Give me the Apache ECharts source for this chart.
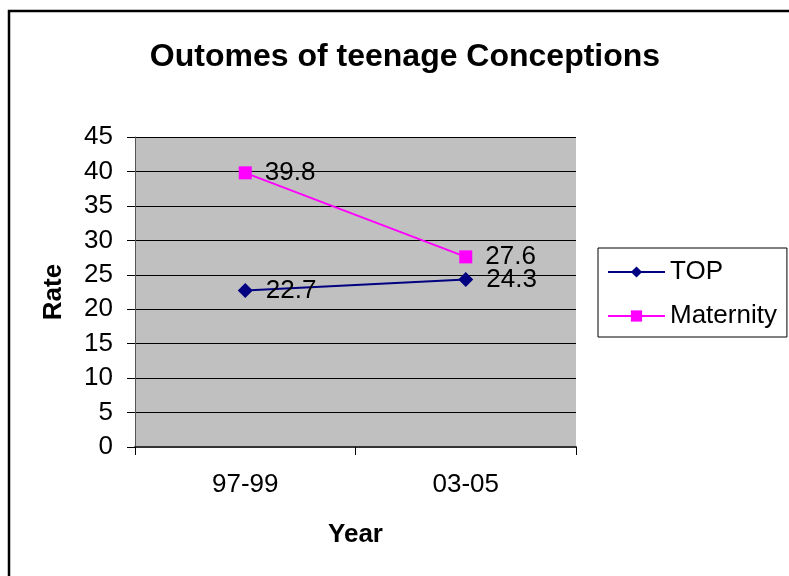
<!DOCTYPE html>
<html>
<head>
<meta charset="utf-8">
<script src="https://cdn.jsdelivr.net/npm/echarts@6/dist/echarts.min.js"></script>
<style>html,body{margin:0;padding:0;background:#fff;}#c{width:789px;height:576px;}</style>
</head>
<body>
<div id="c"></div>
<script>
var categories = ['97-99', '03-05'];
var topValues = [22.7, 24.3];
var maternityValues = [39.8, 27.6];
var seriesNames = ['TOP', 'Maternity'];

var chart = echarts.init(document.getElementById('c'), null, {renderer: 'canvas'});
var font = 'Liberation Sans, Arial, sans-serif';
chart.setOption({
  animation: false,
  backgroundColor: '#fff',
  textStyle: {fontFamily: font},
  title: {
    text: 'Outomes of teenage Conceptions',
    left: 400, top: 36, textAlign: 'center',
    textStyle: {fontSize: 32, fontWeight: 'bold', color: '#000', fontFamily: font}
  },
  graphic: [{
    type: 'rect', shape: {x: 9, y: 11, width: 800, height: 600},
    style: {fill: 'none', stroke: '#000', lineWidth: 2.5}, silent: true, z: 100
  }],
  legend: {
    orient: 'vertical', left: 598, top: 248, width: 190,
    padding: [11, 10, 8, 9], itemGap: 18,
    borderColor: '#000', borderWidth: 1,
    itemWidth: 57, itemHeight: 14,
    textStyle: {fontSize: 26, color: '#000', fontFamily: font},
    data: seriesNames
  },
  grid: {left: 135, top: 137, right: 213, bottom: 129, show: true, backgroundColor: '#c0c0c0', borderWidth: 0},
  xAxis: {
    type: 'category', data: categories, boundaryGap: true,
    name: 'Year', nameLocation: 'middle', nameGap: 75,
    nameTextStyle: {fontSize: 26, fontWeight: 'bold', color: '#000', fontFamily: font},
    axisLine: {lineStyle: {color: '#333', width: 2}},
    axisTick: {show: true, length: 8, lineStyle: {color: '#000'}},
    axisLabel: {fontSize: 26, color: '#000', margin: 25, fontFamily: font},
    splitLine: {show: false}
  },
  yAxis: {
    type: 'value', min: 0, max: 45, interval: 5,
    name: 'Rate', nameLocation: 'middle', nameGap: 68, nameRotate: 90,
    nameTextStyle: {fontSize: 26, fontWeight: 'bold', color: '#000', fontFamily: font},
    axisLine: {show: true, lineStyle: {color: '#555', width: 1}},
    axisTick: {show: true, length: 8, lineStyle: {color: '#000'}},
    axisLabel: {fontSize: 26, color: '#000', margin: 22, fontFamily: font},
    splitLine: {show: true, lineStyle: {color: '#000', width: 1}}
  },
  series: [{
    name: seriesNames[0], type: 'line', data: topValues,
    symbol: 'diamond', symbolSize: 15,
    lineStyle: {color: '#000080', width: 2},
    itemStyle: {color: '#000080'},
    label: {show: true, position: 'right', distance: 13, fontSize: 26, color: '#000', fontFamily: font}
  }, {
    name: seriesNames[1], type: 'line', data: maternityValues,
    symbol: 'rect', symbolSize: 13,
    lineStyle: {color: '#ff00ff', width: 2},
    itemStyle: {color: '#ff00ff'},
    label: {show: true, position: 'right', distance: 13, fontSize: 26, color: '#000', fontFamily: font}
  }]
});
</script>
</body>
</html>
